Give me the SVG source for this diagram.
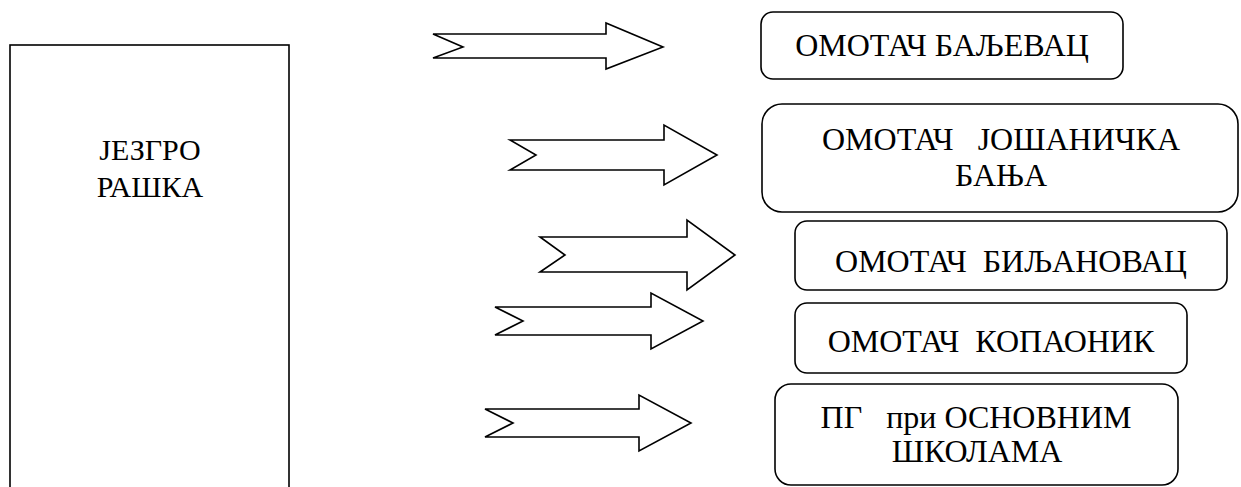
<svg xmlns="http://www.w3.org/2000/svg" width="1241" height="487" viewBox="0 0 1241 487">
<style>
.box{fill:#fff;stroke:#000;stroke-width:1.6}
.arr{fill:#fff;stroke:#000;stroke-width:1.6;stroke-linejoin:miter}
.t{font-family:"Liberation Serif","Times New Roman",serif;font-size:32px;fill:#000;text-anchor:middle}
.tc{font-family:"Liberation Serif","Times New Roman",serif;font-size:30px;fill:#000;text-anchor:middle}
</style>
<rect width="1241" height="487" fill="#fff"/>
<g id="jezgro">
<rect class="box" x="10" y="45" width="279" height="460"/>
<text class="tc" x="150" y="160">ЈЕЗГРО</text>
<text class="tc" x="150" y="197">РАШКА</text>
</g>
<g id="connectors">
<polygon class="arr" points="433,34 606,34 606,23 663,47 606,69 606,58 433,58 463,47"/>
<polygon class="arr" points="510,140 664,140 664,125 717,155 664,185 664,170 510,170 536,155"/>
<polygon class="arr" points="540,237 687,237 687,220 735,255 687,290 687,272 540,272 565,255"/>
<polygon class="arr" points="495,307 651,307 651,293 703,321 651,349 651,335 495,335 523,321"/>
<polygon class="arr" points="485,409 639,409 639,395 691,423 639,451 639,437 485,437 513,423"/>
</g>
<g id="omotac-baljevac">
<rect class="box" x="761" y="12" width="362" height="67" rx="12"/>
<text class="t" x="942" y="56">ОМОТАЧ БАЉЕВАЦ</text>
</g>
<g id="omotac-josanicka-banja">
<rect class="box" x="762" y="104" width="476" height="108" rx="20"/>
<text class="t" x="1001" y="150" xml:space="preserve">ОМОТАЧ   ЈОШАНИЧКА</text>
<text class="t" x="1001" y="186">БАЊА</text>
</g>
<g id="omotac-biljanovac">
<rect class="box" x="795" y="221" width="432" height="69" rx="12"/>
<text class="t" x="1011" y="272" xml:space="preserve">ОМОТАЧ  БИЉАНОВАЦ</text>
</g>
<g id="omotac-kopaonik">
<rect class="box" x="795" y="303" width="392" height="70" rx="12"/>
<text class="t" x="991" y="352" xml:space="preserve">ОМОТАЧ  КОПАОНИК</text>
</g>
<g id="pg-skole">
<rect class="box" x="775" y="384" width="403" height="101" rx="16"/>
<text class="t" x="976" y="428" xml:space="preserve">ПГ   при ОСНОВНИМ</text>
<text class="t" x="977" y="462">ШКОЛАМА</text>
</g>
</svg>
